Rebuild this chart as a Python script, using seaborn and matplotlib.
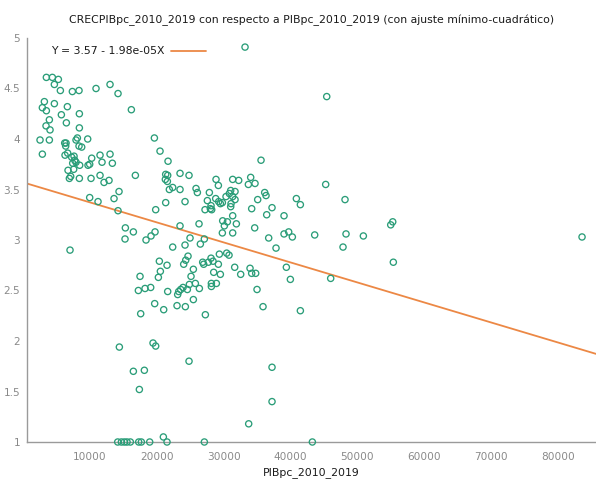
import matplotlib
matplotlib.use("Agg")
import matplotlib.pyplot as plt
import seaborn as sns
import pandas as pd
import numpy as np

# ---- data ----
pib = [
    3448, 4346, 5245, 4646, 5544, 7340, 8338, 10883, 12979, 14177,
    3149, 2849, 3448, 4646, 6592, 5694, 8388, 16173, 3897, 3398,
    3997, 6442, 8388, 2500, 3897, 6193, 6392, 6342, 7889, 8089,
    9636, 8338, 8738, 2849, 6243, 6642, 7590, 7241, 7690, 7390,
    7889, 8438, 10235, 11482, 12979, 11782, 13328, 9686, 9935, 6692,
    7540, 7091, 6891, 8388, 10135, 11482, 12081, 12829, 16772, 9935,
    11183, 13578, 14326, 14177, 15275, 16472, 15225, 18368, 19117, 19716,
    6990, 19620, 19815,
    20464, 21662, 35584, 21312, 21611, 21262, 21562, 23458, 24805, 28847,
    29197, 31342, 32240, 34036, 33688, 34685, 22360, 21861, 23458, 25853,
    26053, 27849, 31043, 31692, 30843, 31342, 30344, 31692, 36133, 36332,
    27550, 28797, 29246, 29795, 29496, 24207, 21312, 28099, 27999, 27200,
    28199, 31043, 31093, 35085, 34186, 36432, 31342, 29845, 30544, 30094,
    31891, 29795, 31342, 26302, 34635, 23458, 24955, 26502, 27100, 24207,
    22360, 36731, 29346, 30444, 30793, 24655, 24307, 24007, 28099, 28398,
    27700, 26851, 27001, 29196, 20364, 21512, 31642, 32540, 25454, 28498,
    29496, 33938, 34186, 34785, 20514, 20215, 25104, 17470,
    45264, 40873, 41472, 48158, 37230, 39027, 39027, 39725, 40274, 43618,
    48308, 50903, 47859, 37829, 39376, 39975, 46013,
    33190, 45420,
    55300, 55000, 55390, 83640,
    17221, 18219, 19067, 21612, 23109, 23259, 23558, 23907, 24556, 24856,
    25754, 26352, 28149, 28149, 28897, 34985, 35883, 41472, 19665, 21013,
    23009, 24256, 25454, 17570, 27250, 19416, 19815, 14376, 24806, 16472,
    18119, 17370, 37230, 37230, 33737, 20963,
    14127, 14676, 15125, 15524, 16023, 17271, 17670, 18917, 21512, 27100, 43268,
]
crec = [
    4.61, 4.61, 4.59, 4.54, 4.48, 4.47, 4.48, 4.50, 4.54, 4.45,
    4.37, 4.31, 4.28, 4.35, 4.32, 4.24, 4.25, 4.29, 4.19, 4.13,
    4.09, 4.16, 4.11, 3.99, 3.99, 3.96, 3.96, 3.93, 3.99, 4.01,
    4.00, 3.93, 3.92, 3.85, 3.84, 3.86, 3.83, 3.82, 3.79, 3.76,
    3.77, 3.74, 3.81, 3.84, 3.85, 3.77, 3.76, 3.74, 3.75, 3.69,
    3.70, 3.63, 3.61, 3.61, 3.61, 3.64, 3.57, 3.59, 3.64, 3.42,
    3.38, 3.41, 3.48, 3.29, 3.12, 3.08, 3.01, 3.00, 3.04, 3.08,
    2.90, 4.01, 3.30,
    3.88, 3.78, 3.79, 3.65, 3.64, 3.60, 3.58, 3.66, 3.64, 3.60,
    3.54, 3.60, 3.59, 3.62, 3.55, 3.56, 3.52, 3.50, 3.50, 3.51,
    3.47, 3.47, 3.49, 3.48, 3.46, 3.43, 3.43, 3.40, 3.47, 3.44,
    3.39, 3.41, 3.38, 3.37, 3.36, 3.38, 3.37, 3.34, 3.31, 3.30,
    3.30, 3.33, 3.36, 3.40, 3.31, 3.25, 3.24, 3.19, 3.18, 3.14,
    3.16, 3.07, 3.07, 3.16, 3.12, 3.14, 3.02, 2.96, 3.01, 2.95,
    2.93, 3.02, 2.86, 2.87, 2.85, 2.84, 2.80, 2.76, 2.82, 2.79,
    2.78, 2.78, 2.76, 2.76, 2.79, 2.75, 2.73, 2.66, 2.71, 2.68,
    2.66, 2.72, 2.67, 2.67, 2.69, 2.63, 2.64, 2.64,
    3.55, 3.41, 3.35, 3.40, 3.32, 3.24, 3.06, 3.08, 3.03, 3.05,
    3.06, 3.04, 2.93, 2.92, 2.73, 2.61, 2.62,
    4.91, 4.42,
    3.18, 3.15, 2.78, 3.03,
    2.50, 2.52, 2.53, 2.49, 2.46, 2.49, 2.51, 2.53, 2.51, 2.56,
    2.57, 2.52, 2.57, 2.54, 2.57, 2.51, 2.34, 2.30, 2.37, 2.31,
    2.35, 2.34, 2.41, 2.27, 2.26, 1.98, 1.95, 1.94, 1.80, 1.70,
    1.71, 1.52, 1.74, 1.40, 1.18, 1.05,
    1.00, 1.00, 1.00, 1.00, 1.00, 1.00, 1.00, 1.00, 1.00, 1.00, 1.00,
]
intercept = 3.57
slope = -1.98e-05
fit_label = "Y = 3.57 - 1.98e-05X"
title = "CRECPIBpc_2010_2019 con respecto a PIBpc_2010_2019 (con ajuste mínimo-cuadrático)"
xlabel = "PIBpc_2010_2019"
xticks = [10000, 20000, 30000, 40000, 50000, 60000, 70000, 80000]
yticks = [1, 1.5, 2, 2.5, 3, 3.5, 4, 4.5, 5]

# ---- styling ----
sns.set_theme(style="white")
plt.rcParams["font.family"] = ["DejaVu Sans"]

W, H = 596, 482
fig = plt.figure(figsize=(W / 100, H / 100), dpi=100)
left, right, top, bottom = 27, 596, 38, 442
ax = fig.add_axes([left / W, 1 - bottom / H, (right - left) / W, (bottom - top) / H])

xmin, xmax = 550, 85730
df = pd.DataFrame({"PIBpc": pib, "CREC": crec})

green = "#2a9d78"
orange = "#ec8845"

sns.scatterplot(data=df, x="PIBpc", y="CREC", ax=ax, marker="o", s=20,
                facecolor="none", edgecolor=green, linewidth=0.95,
                clip_on=False, zorder=3, legend=False)

fit_x = np.array([xmin, xmax])
fit = pd.DataFrame({"x": fit_x, "y": intercept + slope * fit_x})
sns.lineplot(data=fit, x="x", y="y", ax=ax, color=orange, linewidth=1.3,
             label=fit_label, zorder=2)

ax.set_xlim(xmin, xmax)
ax.set_ylim(1, 5)
ax.set_xticks(xticks)
ax.set_yticks(yticks)
ax.set_xticklabels([str(t) for t in xticks])
ax.set_yticklabels([("%g" % t) for t in yticks])

grey = "#9a9a9a"
for s in ["top", "right"]:
    ax.spines[s].set_visible(False)
for s in ["left", "bottom"]:
    ax.spines[s].set_color(grey)
    ax.spines[s].set_linewidth(1.0)
ax.tick_params(axis="both", direction="in", length=5, width=0.8, color=grey,
               labelcolor="#8a8a8a", labelsize=7.6)
ax.tick_params(axis="y", pad=5)
ax.tick_params(axis="x", pad=7)

ax.set_title(title, fontsize=7.8, color="#1a1a1a", pad=11)
ax.set_xlabel(xlabel, fontsize=7.8, color="#1a1a1a", labelpad=4)
ax.set_ylabel("")

leg = ax.legend(loc="upper left", bbox_to_anchor=(0.035, 0.99), frameon=False,
                markerfirst=False, fontsize=7.8, handlelength=3.2,
                handletextpad=0.6, borderaxespad=0)
for t in leg.get_texts():
    t.set_color("#1a1a1a")

fig.savefig("out.png", dpi=100)
